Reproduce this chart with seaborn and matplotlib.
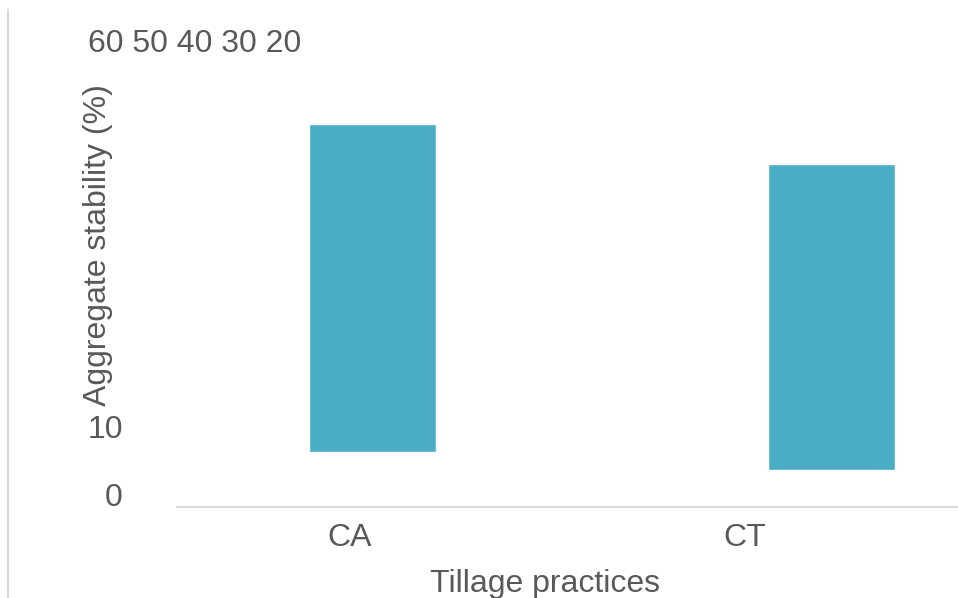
import matplotlib
matplotlib.use("Agg")
import matplotlib.pyplot as plt
from matplotlib.lines import Line2D
import seaborn as sns
import pandas as pd

# dados
practices = ["CA", "CT"]
upper = [56.3, 50.4]   # topo das barras
lower = [8.1, 5.4]     # base das barras (flutuantes)
stacked_ticks = "60 50 40 30 20"
low_ticks = ["10", "0"]

sns.set_style("white")
plt.rcParams['font.family'] = ['Liberation Sans', 'DejaVu Sans']

W, H = 958, 598
BAR = "#4BACC6"
TXT = "#595959"
GRID = "#D9D9D9"
FS = 23

df = pd.DataFrame({"practice": practices,
                   "height": [u - l for u, l in zip(upper, lower)],
                   "bottom": lower})

fig = plt.figure(figsize=(W / 100, H / 100), dpi=100)
ax = fig.add_axes([177 / W, 1 - 507 / H, (W - 177) / W, 507 / H])

sns.barplot(data=df, x="practice", y="height", bottom=df["bottom"].values,
            color=BAR, saturation=1, width=0.276, errorbar=None, ax=ax)

ax.set_ylim(0, 507 / 6.8)
ax.set_xlim(-0.426, 1.275)
ax.set_xticks([])
ax.set_yticks([])
ax.set_xlabel("")
ax.set_ylabel("")
for s in ["top", "right", "left"]:
    ax.spines[s].set_visible(False)
ax.spines["bottom"].set_color(GRID)
ax.spines["bottom"].set_linewidth(1.5)


def px(x, y):
    return x / W, 1 - y / H


# textos (rótulos deslocados como na figura original)
fig.text(*px(88, 52), stacked_ticks, fontsize=FS, color=TXT, ha="left", va="baseline")
fig.text(*px(123, 438), low_ticks[0], fontsize=FS, color=TXT, ha="right", va="baseline")
fig.text(*px(123, 506), low_ticks[1], fontsize=FS, color=TXT, ha="right", va="baseline")
fig.text(*px(349.5, 546), practices[0], fontsize=FS, color=TXT, ha="center", va="baseline")
fig.text(*px(744.5, 546), practices[1], fontsize=FS, color=TXT, ha="center", va="baseline")
fig.text(*px(545, 592), "Tillage practices", fontsize=FS, color=TXT, ha="center", va="baseline")
fig.text(*px(98.5, 245), "Aggregate stability (%)", fontsize=FS, color=TXT,
         ha="center", va="center", rotation=90)

# borda esquerda da área do gráfico
fig.add_artist(Line2D([8 / W, 8 / W], [0, 1 - 10 / H], transform=fig.transFigure,
                      color=GRID, linewidth=1.5))

fig.savefig("out.png", dpi=100)
